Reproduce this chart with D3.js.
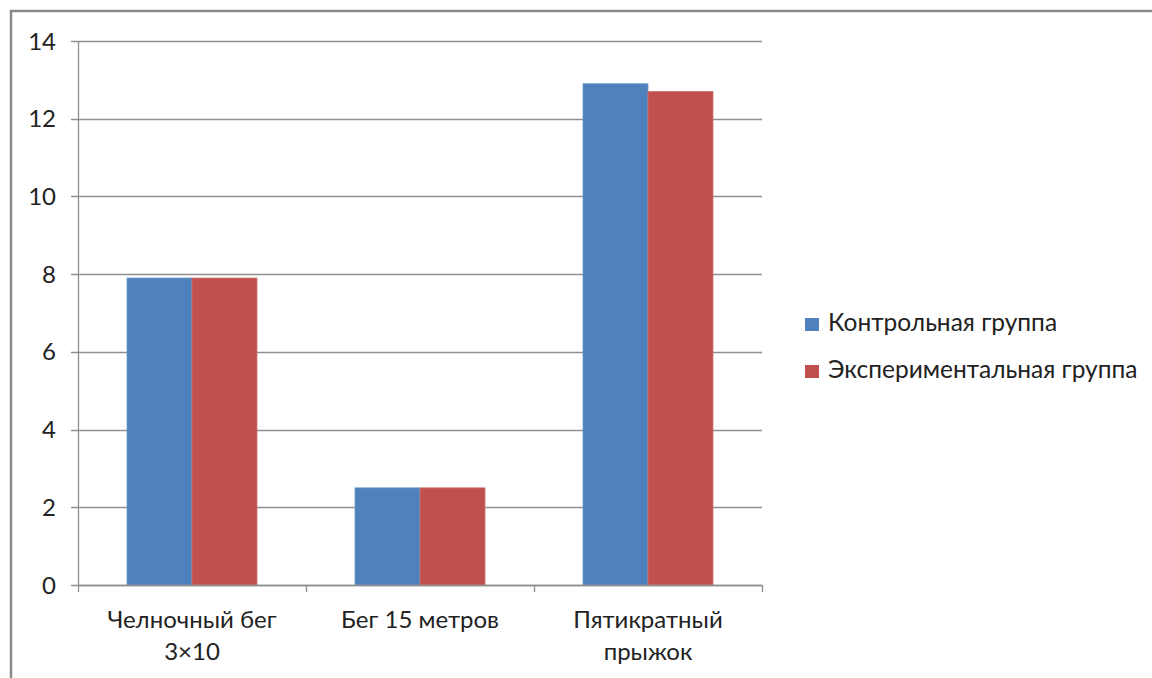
<!DOCTYPE html>
<html>
<head>
<meta charset="utf-8">
<script src="https://cdn.jsdelivr.net/npm/d3@7"></script>
<style>
  html, body { margin: 0; padding: 0; background: #fff; }
  svg { display: block; }
  text { font-family: Lato, "Liberation Sans", sans-serif; fill: #222; }
</style>
</head>
<body>
<svg id="chart" width="1152" height="678"></svg>
<script>
// Test categories (labels split across lines)
const categories = [
  ["Челночный бег", "3×10"],
  ["Бег 15 метров"],
  ["Пятикратный", "прыжок"]
];
const seriesNames = ["Контрольная группа", "Экспериментальная группа"];
const controlValues = [7.9, 2.5, 12.9];
const experimentValues = [7.9, 2.5, 12.7];
const yTicks = [0, 2, 4, 6, 8, 10, 12, 14];
const seriesColors = ["#4F81BD", "#C0504D"];
const seriesStroke = ["#6E97CB", "#CF7371"];

const svg = d3.select("#chart");
const W = 1152, H = 678;

// Outer chart frame (runs off the right and bottom edges)
svg.append("rect")
  .attr("x", 11).attr("y", 11)
  .attr("width", W + 20).attr("height", H + 20)
  .attr("fill", "none")
  .attr("stroke", "#8a8a8a")
  .attr("stroke-width", 2.5);

const plot = { left: 78, right: 762, top: 41, bottom: 585 };

const y = d3.scaleLinear().domain([0, 14]).range([plot.bottom, plot.top]);
const x0 = d3.scaleBand()
  .domain(d3.range(categories.length))
  .range([plot.left, plot.right])
  .paddingInner(0).paddingOuter(0);
const x1 = d3.scaleBand()
  .domain([0, 1])
  .range([0, x0.bandwidth()])
  .paddingInner(0)
  .paddingOuter(0.754);

// Horizontal gridlines with tick stubs on the left
const grid = svg.append("g");
grid.selectAll("line.grid")
  .data(yTicks)
  .join("line")
  .attr("class", "grid")
  .attr("x1", plot.left - 7).attr("x2", plot.right)
  .attr("y1", d => Math.round(y(d)) + 0.5)
  .attr("y2", d => Math.round(y(d)) + 0.5)
  .attr("stroke", "#8f8f8f")
  .attr("stroke-width", 1.3);

// Y axis line
svg.append("line")
  .attr("x1", plot.left + 0.5).attr("x2", plot.left + 0.5)
  .attr("y1", plot.top).attr("y2", plot.bottom)
  .attr("stroke", "#8f8f8f").attr("stroke-width", 1.3);

// Y tick labels
svg.append("g").selectAll("text")
  .data(yTicks)
  .join("text")
  .attr("x", 56)
  .attr("y", d => y(d) + 8.5)
  .attr("text-anchor", "end")
  .attr("font-size", 24)
  .text(d => d);

// Bars
const values = [controlValues, experimentValues];
const groups = svg.append("g").selectAll("g")
  .data(categories.map((c, i) => i))
  .join("g")
  .attr("transform", i => `translate(${x0(i)},0)`);

groups.selectAll("rect")
  .data(i => values.map((v, s) => ({ s, v: v[i] })))
  .join("rect")
  .attr("x", d => x1(d.s))
  .attr("width", x1.bandwidth())
  .attr("y", d => y(d.v))
  .attr("height", d => y(0) - y(d.v))
  .attr("fill", d => seriesColors[d.s])
  .attr("stroke", d => seriesStroke[d.s])
  .attr("stroke-width", 0.8);

// X axis line and category tick marks
svg.append("line")
  .attr("x1", plot.left).attr("x2", plot.right)
  .attr("y1", plot.bottom + 0.5).attr("y2", plot.bottom + 0.5)
  .attr("stroke", "#8f8f8f").attr("stroke-width", 1.3);

const boundaries = d3.range(categories.length + 1).map(i =>
  i < categories.length ? x0(i) : x0(categories.length - 1) + x0.bandwidth());
svg.append("g").selectAll("line")
  .data(boundaries)
  .join("line")
  .attr("x1", d => d + 0.5).attr("x2", d => d + 0.5)
  .attr("y1", plot.bottom).attr("y2", plot.bottom + 7)
  .attr("stroke", "#8f8f8f").attr("stroke-width", 1.3);

// Category labels
const catLabels = svg.append("g").selectAll("text")
  .data(categories)
  .join("text")
  .attr("text-anchor", "middle")
  .attr("font-size", 24)
  .attr("transform", (d, i) => `translate(${x0(i) + x0.bandwidth() / 2},628)`);
catLabels.selectAll("tspan")
  .data(d => d)
  .join("tspan")
  .attr("x", 0)
  .attr("dy", (d, j) => j === 0 ? 0 : 32)
  .text(d => d);

// Legend
const legend = svg.append("g").selectAll("g")
  .data(seriesNames)
  .join("g")
  .attr("transform", (d, i) => `translate(805,${318 + i * 47})`);
legend.append("rect")
  .attr("width", 14).attr("height", 13)
  .attr("fill", (d, i) => seriesColors[i]);
legend.append("text")
  .attr("x", 23).attr("y", 12.5)
  .attr("font-size", 24.5)
  .text(d => d);
</script>
</body>
</html>
